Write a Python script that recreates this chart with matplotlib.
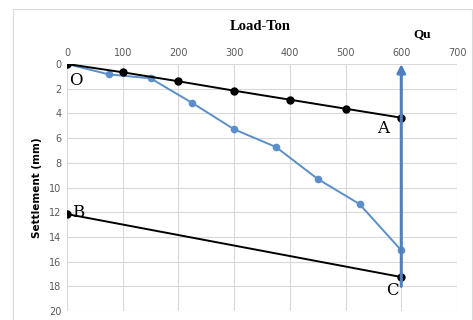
import matplotlib.pyplot as plt
from matplotlib.patches import Rectangle

# load test curve
load = [0, 75, 150, 225, 300, 375, 450, 525, 600]
settle = [0, 0.84, 1.16, 3.16, 5.29, 6.72, 9.31, 11.34, 15.09]

# elastic line O-A
oa_load = [0, 100, 200, 300, 400, 500, 600]
oa_settle = [0, 0.67, 1.40, 2.16, 2.89, 3.62, 4.35]

# offset line B-C
bc_load = [0, 600]
bc_settle = [12.15, 17.25]

qu = 600
qu_range = [18.0, 0]

fig = plt.figure(figsize=(4.73, 3.2), dpi=100)
fig.patches.append(Rectangle((13/473, -5/320), 459/473, 316/320, transform=fig.transFigure,
                             fill=False, edgecolor='#d9d9d9', linewidth=0.8))
ax = fig.add_axes([67/473, 9/320, 390/473, 247/320])

ax.plot(load, settle, color='#5b8fc9', marker='o', markersize=4.5, linewidth=1.4, zorder=3)
ax.plot(oa_load, oa_settle, color='black', marker='o', markersize=5, linewidth=1.4, zorder=4)
ax.plot(bc_load, bc_settle, color='black', marker='o', markersize=5, linewidth=1.4, zorder=4)
ax.annotate('', xy=(qu, qu_range[1]), xytext=(qu, qu_range[0]),
            arrowprops=dict(arrowstyle='-|>', color='#4f7fbf', lw=2.2, mutation_scale=12,
                            shrinkA=0, shrinkB=0), zorder=5)

ax.set_xlim(0, 700)
ax.set_ylim(20, 0)
ax.set_xticks(range(0, 701, 100))
ax.set_yticks(range(0, 21, 2))
ax.xaxis.tick_top()
ax.tick_params(length=0, labelsize=7, labelcolor='#595959', pad=4)
ax.grid(True, color='#d9d9d9', linewidth=0.8)
ax.set_axisbelow(True)
for s in ax.spines.values():
    s.set_visible(False)

ax.set_ylabel('Settlement (mm)', fontsize=7.5, fontweight='bold', labelpad=5)
fig.text(260/473, 1 - 27/320, 'Load-Ton', family='Liberation Serif', fontweight='bold',
         fontsize=10.5, ha='center', va='center')
fig.text(422/473, 1 - 34/320, 'Qu', family='Liberation Serif', fontweight='bold',
         fontsize=9.5, ha='center', va='center')

lab = dict(family='DejaVu Serif', fontsize=12, ha='center', va='center')
ax.text(16, 1.3, 'O', **lab)
ax.text(567, 5.2, 'A', **lab)
ax.text(20, 12.0, 'B', **lab)
ax.text(585, 18.3, 'C', **lab)

fig.savefig('out.png', dpi=100)
